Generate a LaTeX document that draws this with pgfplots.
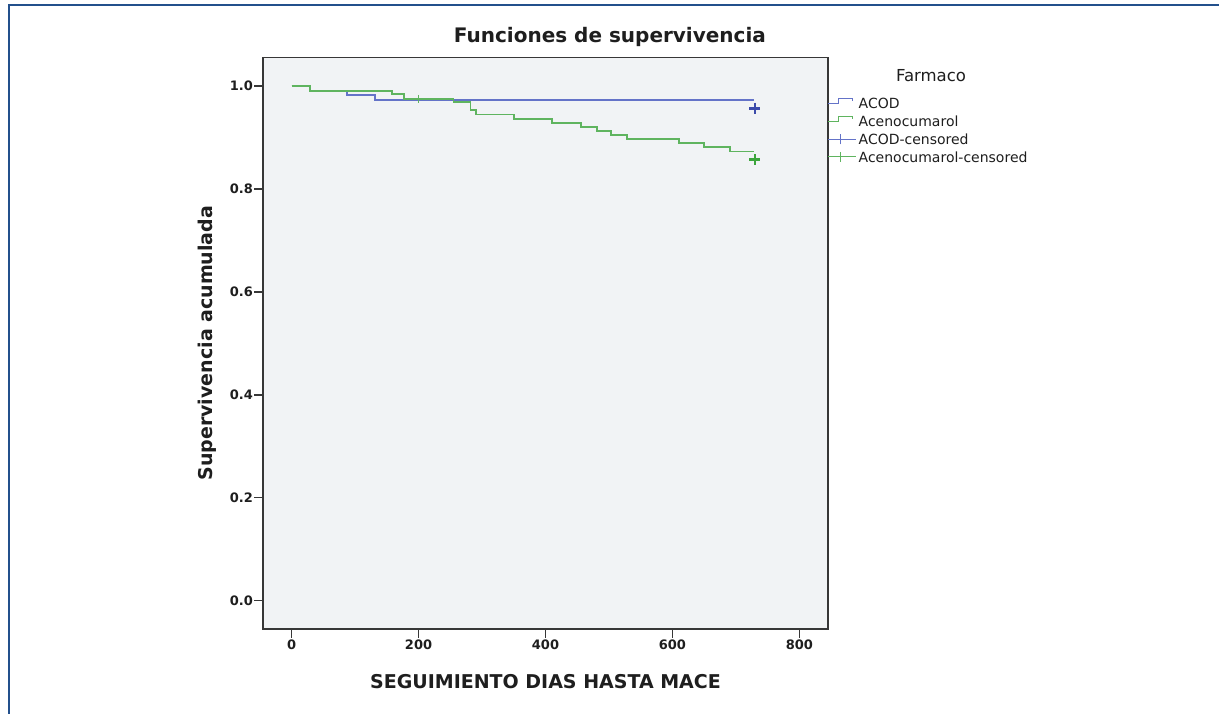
\documentclass[border=0pt]{standalone}
\usepackage{pgfplots}
\pgfplotsset{compat=1.18}
\usepackage{fontspec}
\setmainfont{DejaVu Sans}
\definecolor{acod}{RGB}{100,115,200}
\definecolor{aceno}{RGB}{95,180,95}
\definecolor{acodc}{RGB}{60,75,170}
\definecolor{acenoc}{RGB}{60,165,60}
\definecolor{framec}{RGB}{35,80,140}
\definecolor{bg}{RGB}{241,243,245}
\definecolor{axc}{RGB}{55,55,55}
\definecolor{txt}{RGB}{30,30,30}
\begin{document}
\begin{tikzpicture}
\useasboundingbox (0,0) rectangle (1219pt,714pt);
\fill[white] (0,0) rectangle (1219pt,714pt);
\draw[framec, line width=2pt] (9pt,0pt) -- (9pt,709pt) -- (1219pt,709pt);
\begin{axis}[
 at={(263pt,85pt)}, anchor=south west,
 scale only axis, width=565pt, height=571.7pt,
 xmin=-45, xmax=845, ymin=-0.055, ymax=1.056,
 axis background/.style={fill=bg},
 axis line style={axc, line width=1.3pt},
 tick style={axc, line width=1.3pt},
 major tick length=9pt,
 tick align=outside, tick pos=left,
 xtick={0,200,400,600,800},
 ytick={0,0.2,0.4,0.6,0.8,1.0},
 /pgf/number format/assume math mode=true,
 yticklabel={\pgfmathprintnumber[fixed,fixed zerofill,precision=1]{\tick}},
 tick label style={font=\fontsize{13}{15}\selectfont\bfseries, text=txt},
 xticklabel style={inner sep=2pt},
 yticklabel style={inner sep=1pt},
 title={Funciones de supervivencia},
 title style={at={(axis description cs:0.614,1)}, anchor=base, yshift=9pt, font=\fontsize{20}{24}\selectfont\bfseries, text=txt},
 xlabel={SEGUIMIENTO DIAS HASTA MACE},
 xlabel style={at={(axis description cs:0.5,-0.0927)}, anchor=center, font=\fontsize{19}{23}\selectfont\bfseries, text=txt},
 ylabel={Supervivencia acumulada},
 ylabel style={at={(axis description cs:-0.0991,0.5)}, anchor=center, font=\fontsize{19}{23}\selectfont\bfseries, text=txt},
 legend cell align=left,
 legend style={at={(axis description cs:0.998,0.929)}, anchor=north west, draw=none, fill=none,
   inner sep=0pt, outer sep=0pt, font=\fontsize{14}{16}\selectfont, text=txt,
   row sep=6.4pt, nodes={inner sep=0pt, text height=10.3pt, text depth=0pt},
   /tikz/every odd column/.append style={column sep=2pt}},
]
\addplot[const plot, acod, line width=1.8pt,
  legend image code/.code={\draw[acod, line width=1.4pt] (0pt,0pt) -- (11pt,0pt) -- (11pt,5pt) -- (25pt,5pt) -- (25pt,2.5pt); \path (0pt,-5pt) (28pt,0pt);}]
 coordinates {(0,1.0) (29,0.990) (87,0.983) (132,0.973) (729,0.973)};
\addlegendentry{ACOD}
\addplot[const plot, aceno, line width=1.8pt,
  legend image code/.code={\draw[aceno, line width=1.4pt] (0pt,0pt) -- (11pt,0pt) -- (11pt,5pt) -- (25pt,5pt) -- (25pt,2.5pt); \path (0pt,-5pt) (28pt,0pt);}]
 coordinates {(0,1.0) (29,0.990) (158,0.984) (177,0.975) (255,0.969) (282,0.953) (291,0.945)
   (350,0.936) (410,0.929) (456,0.921) (481,0.913) (503,0.905) (528,0.897) (610,0.889)
   (650,0.881) (690,0.873) (729,0.873)};
\addlegendentry{Acenocumarol}
\addplot[only marks, mark=+, acodc, mark size=5.5pt, mark options={line width=2.6pt},
  legend image code/.code={\draw[acod, line width=1.1pt] (0pt,0pt) -- (28pt,0pt) (13pt,-5pt) -- (13pt,5pt);}]
 coordinates {(730,0.957)};
\addlegendentry{ACOD-censored}
\addplot[only marks, mark=+, acenoc, mark size=5.5pt, mark options={line width=2.6pt},
  legend image code/.code={\draw[aceno, line width=1.1pt] (0pt,0pt) -- (28pt,0pt) (13pt,-5pt) -- (13pt,5pt);}]
 coordinates {(730,0.857)};
\addlegendentry{Acenocumarol-censored}
\addplot[only marks, mark=+, aceno, mark size=4pt, mark options={line width=1.4pt}, forget plot]
 coordinates {(200,0.975)};
\end{axis}
\node[anchor=base, font=\fontsize{16.5}{19}\selectfont, text=txt] at (931pt,632.3pt) {Farmaco};
\end{tikzpicture}
\end{document}
